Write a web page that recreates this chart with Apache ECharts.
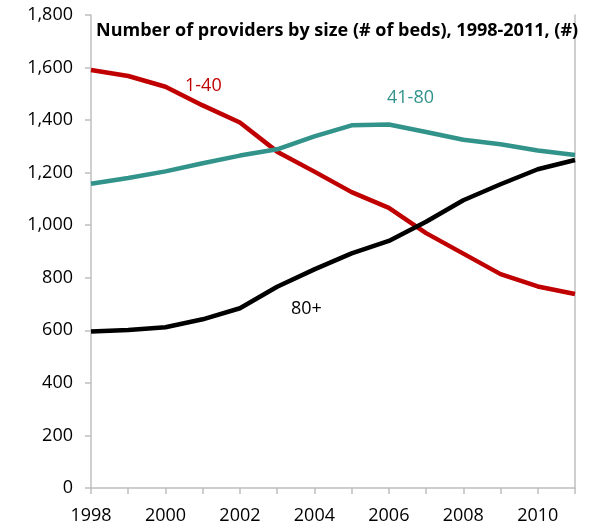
<!DOCTYPE html>
<html>
<head>
<meta charset="utf-8">
<script src="https://cdn.jsdelivr.net/npm/echarts@6/dist/echarts.min.js"></script>
<style>
  html, body { margin: 0; padding: 0; background: #fff; }
  #chart { width: 609px; height: 524px; }
</style>
</head>
<body>
<div id="chart"></div>
<script>
// years on the x axis
const years = ['1998', '1999', '2000', '2001', '2002', '2003', '2004', '2005', '2006', '2007', '2008', '2009', '2010', '2011']

// providers by size band
const small = [1591, 1568, 1527, 1456, 1391, 1280, 1204, 1126, 1066, 970, 892, 814, 767, 738]     // 1-40
const medium = [1158, 1180, 1205, 1236, 1265, 1289, 1338, 1380, 1383, 1355, 1325, 1308, 1284, 1267] // 41-80
const large = [596, 601, 612, 642, 684, 766, 832, 893, 940, 1013, 1095, 1156, 1213, 1248]           // 80+

const title = 'Number of providers by size (# of beds), 1998-2011, (#)'
const seriesNames = ['1-40', '41-80', '80+']

const font = 'Open Sans'
const axisGray = '#bfbfbf'

const chart = echarts.init(document.getElementById('chart'))
chart.setOption({
  animation: false,
  textStyle: { fontFamily: font },
  title: {
    text: title,
    left: 91, top: 17,
    textStyle: { fontFamily: font, fontSize: 18, fontWeight: 'bold', color: '#000' }
  },
  grid: { left: 91, right: 34, top: 15, bottom: 36, outerBoundsMode: 'none' },
  xAxis: {
    type: 'category',
    data: years,
    boundaryGap: false,
    axisLine: { lineStyle: { color: axisGray, width: 1.5 } },
    axisTick: { interval: 0, length: 6, lineStyle: { color: axisGray, width: 1.5 } },
    axisLabel: { interval: 1, color: '#000', fontSize: 18, margin: 19 }
  },
  yAxis: [{
    type: 'value',
    min: 0, max: 1800, interval: 200,
    splitLine: { show: false },
    axisLine: { show: true, lineStyle: { color: axisGray, width: 1.5 } },
    axisTick: { show: true, length: 6, lineStyle: { color: axisGray, width: 1.5 } },
    axisLabel: {
      color: '#000', fontSize: 18, margin: 18,
      formatter: v => v.toLocaleString('en-US')
    }
  }, {
    type: 'value',
    min: 0, max: 1800, interval: 200,
    position: 'right',
    splitLine: { show: false },
    axisLine: { show: true, lineStyle: { color: axisGray, width: 1.5 } },
    axisTick: { show: false },
    axisLabel: { show: false }
  }],
  series: [
    { name: seriesNames[0], type: 'line', data: small, symbol: 'none', lineStyle: { color: '#c00000', width: 4.5 } },
    { name: seriesNames[1], type: 'line', data: medium, symbol: 'none', lineStyle: { color: '#31938a', width: 4.5 } },
    { name: seriesNames[2], type: 'line', data: large, symbol: 'none', lineStyle: { color: '#000', width: 4.5 } }
  ],
  graphic: [
    { type: 'text', x: 185, y: 86, style: { text: seriesNames[0], fill: '#c00000', font: '18px "Open Sans"', verticalAlign: 'middle' } },
    { type: 'text', x: 387, y: 98, style: { text: seriesNames[1], fill: '#31938a', font: '18px "Open Sans"', verticalAlign: 'middle' } },
    { type: 'text', x: 291, y: 309, style: { text: seriesNames[2], fill: '#000', font: '18px "Open Sans"', verticalAlign: 'middle' } }
  ]
})
</script>
</body>
</html>
